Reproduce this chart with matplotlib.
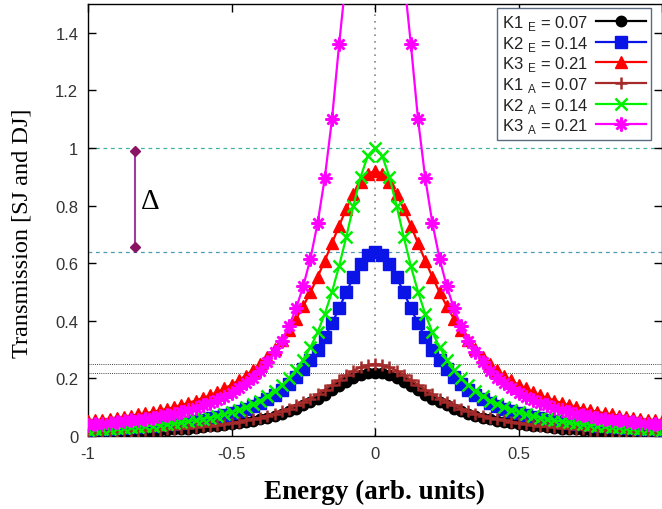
import numpy as np
import matplotlib
matplotlib.use("Agg")
import matplotlib.pyplot as plt

# energy grid, 81 samples between -1 and 1
energy = np.linspace(-1, 1, 81)

k1_e = [0.012, 0.013, 0.013, 0.014, 0.015, 0.015, 0.016, 0.017, 0.018, 0.019,
        0.020, 0.022, 0.023, 0.025, 0.026, 0.028, 0.030, 0.033, 0.035, 0.038,
        0.041, 0.045, 0.049, 0.053, 0.058, 0.064, 0.070, 0.078, 0.086, 0.095,
        0.106, 0.117, 0.130, 0.144, 0.158, 0.173, 0.188, 0.200, 0.211, 0.218,
        0.220,
        0.218, 0.211, 0.200, 0.188, 0.173, 0.158, 0.144, 0.130, 0.117, 0.106,
        0.095, 0.086, 0.078, 0.070, 0.064, 0.058, 0.053, 0.049, 0.045, 0.041,
        0.038, 0.035, 0.033, 0.030, 0.028, 0.026, 0.025, 0.023, 0.022, 0.020,
        0.019, 0.018, 0.017, 0.016, 0.015, 0.015, 0.014, 0.013, 0.013, 0.012]

k2_e = [0.022, 0.023, 0.024, 0.025, 0.027, 0.028, 0.030, 0.032, 0.034, 0.036,
        0.038, 0.040, 0.043, 0.046, 0.049, 0.053, 0.057, 0.062, 0.067, 0.073,
        0.079, 0.087, 0.095, 0.105, 0.116, 0.129, 0.143, 0.161, 0.181, 0.204,
        0.231, 0.263, 0.300, 0.343, 0.391, 0.444, 0.499, 0.552, 0.598, 0.629,
        0.640,
        0.629, 0.598, 0.552, 0.499, 0.444, 0.391, 0.343, 0.300, 0.263, 0.231,
        0.204, 0.181, 0.161, 0.143, 0.129, 0.116, 0.105, 0.095, 0.087, 0.079,
        0.073, 0.067, 0.062, 0.057, 0.053, 0.049, 0.046, 0.043, 0.040, 0.038,
        0.036, 0.034, 0.032, 0.030, 0.028, 0.027, 0.025, 0.024, 0.023, 0.022]

k3_e = [0.052, 0.055, 0.057, 0.060, 0.064, 0.067, 0.071, 0.075, 0.079, 0.084,
        0.089, 0.094, 0.100, 0.107, 0.115, 0.123, 0.132, 0.141, 0.152, 0.165,
        0.178, 0.193, 0.210, 0.230, 0.251, 0.275, 0.303, 0.333, 0.368, 0.407,
        0.451, 0.499, 0.552, 0.609, 0.669, 0.730, 0.789, 0.841, 0.883, 0.911,
        0.920,
        0.911, 0.883, 0.841, 0.789, 0.730, 0.669, 0.609, 0.552, 0.499, 0.451,
        0.407, 0.368, 0.333, 0.303, 0.275, 0.251, 0.230, 0.210, 0.193, 0.178,
        0.165, 0.152, 0.141, 0.132, 0.123, 0.115, 0.107, 0.100, 0.094, 0.089,
        0.084, 0.079, 0.075, 0.071, 0.067, 0.064, 0.060, 0.057, 0.055, 0.052]

k1_a = [0.013, 0.014, 0.014, 0.015, 0.016, 0.017, 0.018, 0.019, 0.020, 0.021,
        0.022, 0.024, 0.025, 0.027, 0.029, 0.031, 0.033, 0.036, 0.039, 0.042,
        0.045, 0.049, 0.054, 0.059, 0.064, 0.071, 0.078, 0.086, 0.095, 0.106,
        0.117, 0.130, 0.145, 0.161, 0.178, 0.195, 0.212, 0.227, 0.239, 0.247,
        0.250,
        0.247, 0.239, 0.227, 0.212, 0.195, 0.178, 0.161, 0.145, 0.130, 0.117,
        0.106, 0.095, 0.086, 0.078, 0.071, 0.064, 0.059, 0.054, 0.049, 0.045,
        0.042, 0.039, 0.036, 0.033, 0.031, 0.029, 0.027, 0.025, 0.024, 0.022,
        0.021, 0.020, 0.019, 0.018, 0.017, 0.016, 0.015, 0.014, 0.014, 0.013]

k2_a = [0.022, 0.023, 0.024, 0.026, 0.027, 0.029, 0.030, 0.032, 0.034, 0.036,
        0.039, 0.041, 0.044, 0.047, 0.051, 0.055, 0.059, 0.064, 0.069, 0.076,
        0.083, 0.091, 0.100, 0.111, 0.123, 0.138, 0.155, 0.176, 0.200, 0.229,
        0.265, 0.308, 0.360, 0.424, 0.500, 0.590, 0.692, 0.800, 0.900, 0.973,
        1.000,
        0.973, 0.900, 0.800, 0.692, 0.590, 0.500, 0.424, 0.360, 0.308, 0.265,
        0.229, 0.200, 0.176, 0.155, 0.138, 0.123, 0.111, 0.100, 0.091, 0.083,
        0.076, 0.069, 0.064, 0.059, 0.055, 0.051, 0.047, 0.044, 0.041, 0.039,
        0.036, 0.034, 0.032, 0.030, 0.029, 0.027, 0.026, 0.024, 0.023, 0.022]

k3_a = [0.039, 0.041, 0.043, 0.045, 0.048, 0.051, 0.054, 0.057, 0.060, 0.064,
        0.068, 0.073, 0.078, 0.084, 0.090, 0.098, 0.106, 0.115, 0.125, 0.136,
        0.150, 0.165, 0.183, 0.203, 0.227, 0.256, 0.290, 0.331, 0.381, 0.443,
        0.520, 0.616, 0.739, 0.896, 1.099, 1.360, 1.600, 2.076, 2.485, 2.818,
        2.950,
        2.818, 2.485, 2.076, 1.600, 1.360, 1.099, 0.896, 0.739, 0.616, 0.520,
        0.443, 0.381, 0.331, 0.290, 0.256, 0.227, 0.203, 0.183, 0.165, 0.150,
        0.136, 0.125, 0.115, 0.106, 0.098, 0.090, 0.084, 0.078, 0.073, 0.068,
        0.064, 0.060, 0.057, 0.054, 0.051, 0.048, 0.045, 0.043, 0.041, 0.039]

labels = [r"K1 $_\mathregular{E}$ = 0.07", r"K2 $_\mathregular{E}$ = 0.14",
          r"K3 $_\mathregular{E}$ = 0.21", r"K1 $_\mathregular{A}$ = 0.07",
          r"K2 $_\mathregular{A}$ = 0.14", r"K3 $_\mathregular{A}$ = 0.21"]

# peak markers and the gap between the two dashed levels
peak_levels = [1.0, 0.64]
small_peaks = [0.25, 0.22]
delta_x = -0.836
delta_span = [0.99, 0.656]

series = [k1_e, k2_e, k3_e, k1_a, k2_a, k3_a]
colors = ["#000000", "#0a14e6", "#ff0000", "#a52a2a", "#00f000", "#ff00ff"]
markers = ["o", "s", "^", "+", "x", (8, 2, 0)]
msizes = [7.5, 8, 8.5, 9, 8, 10]

W, H = 662, 510
fig = plt.figure(figsize=(W / 100, H / 100), dpi=100)
ax = fig.add_axes([88 / W, (H - 437) / H, 574 / W, 432 / H])

ax.axvline(0, color="#888888", lw=1.2, linestyle=(0, (1, 3)), zorder=1)
ax.axhline(peak_levels[0], color="#3fb39e", lw=0.9, linestyle=(0, (3, 3)), zorder=1)
ax.axhline(peak_levels[1], color="#4a9bb5", lw=0.9, linestyle=(0, (3, 3)), zorder=1)
for lvl in small_peaks:
    ax.axhline(lvl, color="#444444", lw=0.7, linestyle=(0, (1, 1.2)), zorder=1)

for ys, c, m, ms, lab in zip(series, colors, markers, msizes, labels):
    mew = 1.8 if m in ("+", "x") or isinstance(m, tuple) else 1.0
    ax.plot(energy, ys, color=c, lw=1.6, marker=m, markersize=ms,
            markeredgewidth=mew, markeredgecolor=c, label=lab, zorder=3)

ax.plot([delta_x, delta_x], delta_span, color="#a03ca0", lw=1.5, zorder=4)
ax.plot([delta_x, delta_x], delta_span, linestyle="none", marker="D",
        markersize=5.5, color="#8a1464", zorder=5)
ax.text(delta_x + 0.02, 0.815, "\u0394", fontsize=21, family="Liberation Serif",
        ha="left", va="center")

ax.set_xlim(-1, 1)
ax.set_ylim(0, 1.5)
ax.set_xticks([-1, -0.5, 0, 0.5, 1])
# the label of the last tick falls past the right edge
ax.set_xticklabels(["-1", "-0.5", "0", "0.5", ""])
ax.set_yticks([0, 0.2, 0.4, 0.6, 0.8, 1.0, 1.2, 1.4])
ax.set_yticklabels(["0", "0.2", "0.4", "0.6", "0.8", "1", "1.2", "1.4"])
ax.tick_params(direction="in", length=6, width=1, top=True, right=True,
               labelsize=12, labelcolor="#333333", pad=7)
for t in ax.get_xticklabels() + ax.get_yticklabels():
    t.set_family("Liberation Sans")
for sp in ax.spines.values():
    sp.set_linewidth(1.0)

ax.set_xlabel("Energy (arb. units)", family="Liberation Serif",
              fontweight="bold", fontsize=19.5)
ax.xaxis.set_label_coords(0.5, -0.1)
ax.set_ylabel("Transmission [SJ and DJ]", family="Liberation Serif", fontsize=17.5)
ax.yaxis.set_label_coords(-0.097, 0.472)

leg = ax.legend(loc="upper right", bbox_to_anchor=(0.981, 0.991),
                borderaxespad=0, markerfirst=False, numpoints=1,
                handlelength=3.0, fancybox=False, framealpha=1,
                edgecolor="#5a6a80", labelspacing=0.1, borderpad=0.3,
                handletextpad=0.5,
                prop={"family": "Liberation Sans", "size": 12})
leg.get_frame().set_linewidth(1.0)
for t in leg.get_texts():
    t.set_color("#222222")

fig.savefig("out.png", dpi=100)
